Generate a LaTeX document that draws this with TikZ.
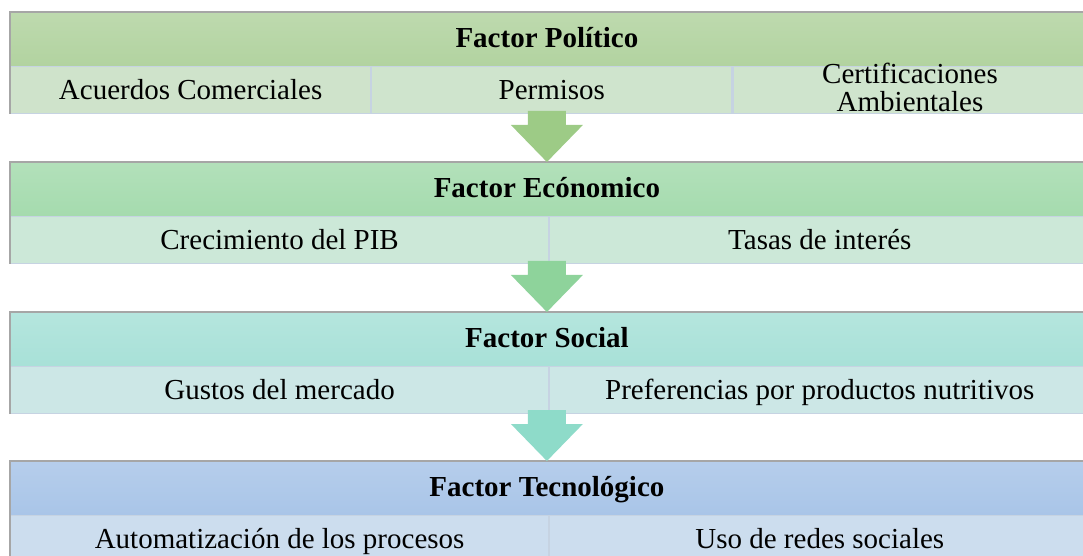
\documentclass[tikz,border=0pt]{standalone}
\usepackage{fontspec}
\setmainfont{Liberation Serif}
\usetikzlibrary{positioning,calc}
\definecolor{polHead}{HTML}{B2D3A0}
\definecolor{polSub}{HTML}{CFE3CB}
\definecolor{ecoHead}{HTML}{A5DBAE}
\definecolor{ecoSub}{HTML}{CCE8D8}
\definecolor{socHead}{HTML}{A8E1D8}
\definecolor{socSub}{HTML}{CCE7E6}
\definecolor{tecHead}{HTML}{A9C5E8}
\definecolor{tecSub}{HTML}{CCDDEE}
\definecolor{arrPol}{HTML}{9DCB86}
\definecolor{arrEco}{HTML}{8ED39B}
\definecolor{arrSoc}{HTML}{8EDBC9}
\definecolor{cellLine}{HTML}{C6D3E2}

\begin{document}
\begin{tikzpicture}[
                 x = 0.5pt,
                 y = -0.5pt,
              font = \fontsize{14.5}{14}\selectfont,
     header/.style = {anchor=north west, minimum width=536.5pt, minimum height=26.5pt,
                      inner sep=0pt, text height=9pt, text depth=0pt,
                      font=\fontsize{14.5}{14}\selectfont\bfseries},
       cell/.style = {anchor=north west, minimum height=23.5pt, inner sep=0pt,
                      text height=10pt, text depth=0pt,
                      draw=cellLine, line width=0.6pt},
 shadowline/.style = {draw=gray!70, line width=1pt},
                   ]
\useasboundingbox (0,0) rectangle (1083,556);

% Factor politico
\node[header, top color=polHead!85!white, bottom color=polHead] (pol) at (10,12) {Factor Político};
\node[cell, fill=polSub, minimum width=180pt] (acu) at (pol.south west) {Acuerdos Comerciales};
\node[cell, fill=polSub!85!ecoSub, minimum width=180pt] (per) at (acu.north east) {Permisos};
\node[cell, fill=polSub!85!ecoSub, minimum width=177pt] (cer) at (per.north east) {};
\node[align=center, inner sep=0pt, yshift=1pt] (cerTxt) at (cer.center) {Certificaciones\\Ambientales};
\draw[shadowline] (acu.south west) -- (pol.north west) -- (pol.north east);

% Factor economico
\node[header, top color=ecoHead!85!white, bottom color=ecoHead] (eco) at (10,162) {Factor Ecónomico};
\node[cell, fill=ecoSub, minimum width=269pt] (pib) at (eco.south west) {Crecimiento del PIB};
\node[cell, fill=ecoSub, minimum width=270pt] (tas) at (pib.north east) {Tasas de interés};
\draw[shadowline] (pib.south west) -- (eco.north west) -- (eco.north east);

% Factor social
\node[header, top color=socHead!85!white, bottom color=socHead] (soc) at (10,312) {Factor Social};
\node[cell, fill=socSub, minimum width=269pt] (gus) at (soc.south west) {Gustos del mercado};
\node[cell, fill=socSub, minimum width=270pt] (pre) at (gus.north east) {Preferencias por productos nutritivos};
\draw[shadowline] (gus.south west) -- (soc.north west) -- (soc.north east);

% Factor tecnologico
\node[header, top color=tecHead!85!white, bottom color=tecHead] (tec) at (10,461) {Factor Tecnológico};
\node[cell, fill=tecSub, minimum width=269pt] (aut) at (tec.south west) {Automatización de los procesos};
\node[cell, fill=tecSub, minimum width=270pt] (red) at (aut.north east) {Uso de redes sociales};
\draw[shadowline] (aut.south west) -- (tec.north west) -- (tec.north east);

% flechas
\fill[arrPol] (eco.north) -- ++(-18pt,18.5pt) -- ++(8.5pt,0pt) -- ++(0pt,7pt)
    -- ++(19pt,0pt) -- ++(0pt,-7pt) -- ++(8.5pt,0pt) -- cycle;
\fill[arrEco] (soc.north) -- ++(-18pt,18.5pt) -- ++(8.5pt,0pt) -- ++(0pt,7pt)
    -- ++(19pt,0pt) -- ++(0pt,-7pt) -- ++(8.5pt,0pt) -- cycle;
\fill[arrSoc] (tec.north) -- ++(-18pt,18.5pt) -- ++(8.5pt,0pt) -- ++(0pt,7pt)
    -- ++(19pt,0pt) -- ++(0pt,-7pt) -- ++(8.5pt,0pt) -- cycle;
\end{tikzpicture}
\end{document}
